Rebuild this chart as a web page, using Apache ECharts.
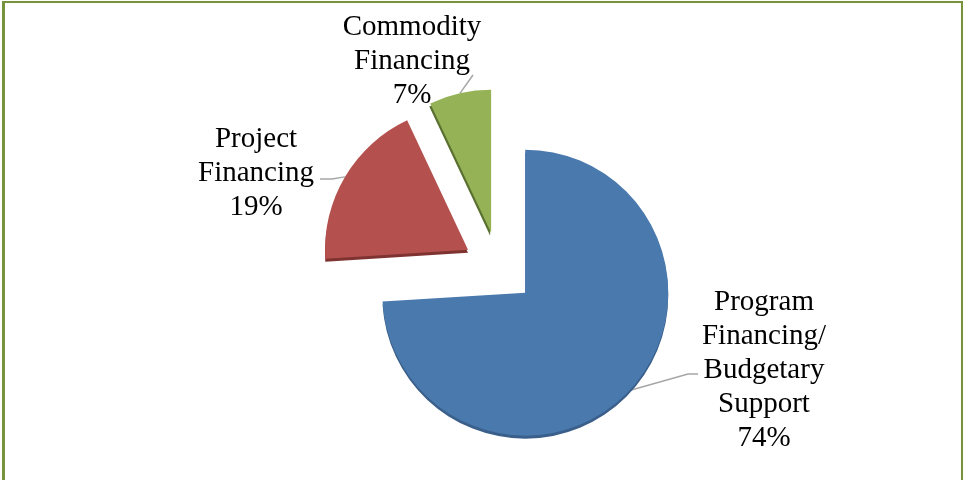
<!DOCTYPE html>
<html>
<head>
<meta charset="utf-8">
<script src="https://cdn.jsdelivr.net/npm/echarts@6/dist/echarts.min.js"></script>
<style>
  html, body { margin: 0; padding: 0; background: #ffffff; overflow: hidden; }
  #frame {
    position: absolute; left: 2px; top: 1px; width: 956px; height: 520px;
    border-left: 3px solid #77933C; border-top: 2px solid #77933C; border-right: 2px solid #77933C;
  }
  #chart { position: absolute; left: 0; top: 0; width: 963px; height: 480px; }
</style>
</head>
<body>
<div id="frame"></div>
<div id="chart"></div>
<script>
// Share of financing by type (percent)
const categories = [
  'Program\nFinancing/\nBudgetary\nSupport',
  'Project\nFinancing',
  'Commodity\nFinancing'
];
const shares = [74, 19, 7];
const sliceColors = ['#4A79AE', '#B4514E', '#95B356'];
const edgeColors = ['#3A5F8A', '#7E3331', '#5A7030'];

// Pie geometry
const CENTER = [499, 268];
const RADIUS = 143;
const EXPLODE = 36;

// Label block centres and leader-line elbows
const labelSpots = [
  { x: 764, y: 370, elbow: [[688, 374], [698, 374]] },
  { x: 256, y: 173, elbow: [[332, 179], [320, 179]] },
  { x: 412, y: 61,  elbow: [[473, 75]] }
];

const total = shares.reduce((a, b) => a + b, 0);

// Point on the outer arc at the middle of slice i, after the slice is pulled out
function arcAnchor(i) {
  let before = 0;
  for (let k = 0; k < i; k++) before += shares[k];
  const mid = (before + shares[i] / 2) / total * 2 * Math.PI;
  const reach = RADIUS + EXPLODE;
  return [CENTER[0] + reach * Math.sin(mid), CENTER[1] - reach * Math.cos(mid)];
}

const labelFont = { fontFamily: 'Liberation Serif', fontSize: 29, lineHeight: 34 };

const graphics = [];
categories.forEach((name, i) => {
  const spot = labelSpots[i];
  graphics.push({
    type: 'polyline',
    silent: true,
    shape: { points: [arcAnchor(i)].concat(spot.elbow) },
    style: { stroke: '#A6A6A6', lineWidth: 1.5, fill: null }
  });
  graphics.push({
    type: 'text',
    silent: true,
    x: spot.x,
    y: spot.y,
    style: Object.assign({
      text: name + '\n' + shares[i] + '%',
      fill: '#000000',
      align: 'center',
      verticalAlign: 'middle'
    }, labelFont)
  });
});

const chart = echarts.init(document.getElementById('chart'), null, { renderer: 'canvas' });
chart.setOption({
  animation: false,
  backgroundColor: 'transparent',
  graphic: graphics,
  series: [{
    type: 'pie',
    center: CENTER,
    radius: RADIUS,
    startAngle: 90,
    clockwise: true,
    selectedMode: 'multiple',
    selectedOffset: EXPLODE,
    label: { show: false },
    labelLine: { show: false },
    emphasis: { disabled: true },
    data: categories.map((name, i) => {
      const style = {
        color: sliceColors[i],
        shadowColor: edgeColors[i],
        shadowBlur: 0,
        shadowOffsetX: i === 2 ? -1 : 0,
        shadowOffsetY: 3
      };
      return {
        name: name,
        value: shares[i],
        selected: true,
        itemStyle: style,
        select: { itemStyle: style }
      };
    })
  }]
});
</script>
</body>
</html>
